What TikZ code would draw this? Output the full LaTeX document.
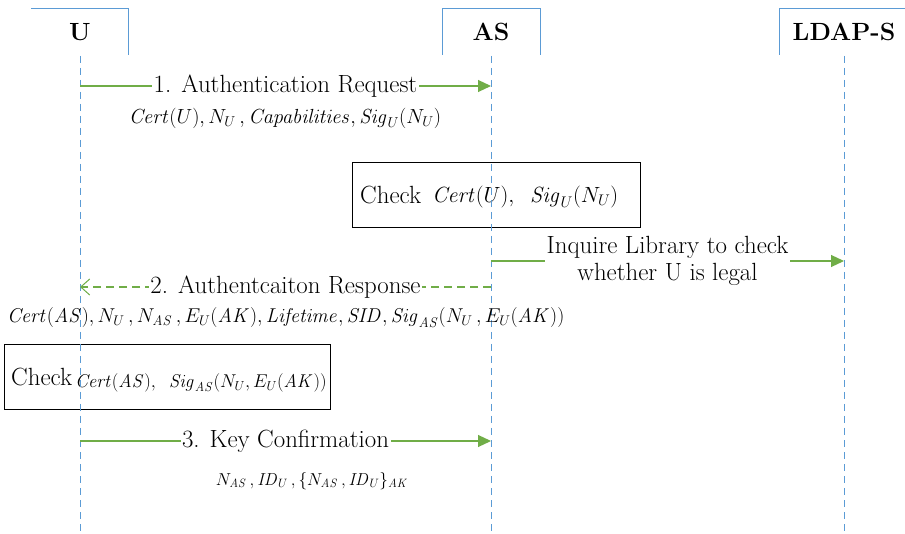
\RequirePackage{fix-cm}
\documentclass[tikz,border=0pt]{standalone}
\usetikzlibrary{arrows.meta}
\definecolor{lifeblue}{RGB}{91,155,213}
\definecolor{msggreen}{RGB}{112,173,71}
\newcommand{\mi}[1]{\mathit{#1}}
\begin{document}
\begin{tikzpicture}[x=1pt,y=-1pt,
  life/.style={draw=lifeblue, line width=0.9pt, dash pattern=on 7pt off 5pt},
  hdr/.style={draw=lifeblue, line width=0.9pt},
  hdrtxt/.style={font=\fontsize{24.88}{27}\selectfont\bfseries, inner sep=0pt},
  msg/.style={draw=msggreen, line width=1.1pt, -{Triangle[length=13pt,width=12pt]}},
  reply/.style={draw=msggreen, line width=1.1pt, dash pattern=on 8pt off 5pt, -{Straight Barb[length=9pt,width=16pt,line width=1pt]}},
  lbl/.style={fill=white, inner sep=1.5pt, font=\fontsize{24.88}{27}\selectfont},
  mathlbl/.style={inner sep=0pt, font=\fontsize{20}{22}\selectfont},
  chk/.style={draw=black, line width=1pt, inner sep=0pt},
  chktxt/.style={inner sep=0pt, font=\fontsize{24.88}{27}\selectfont}
]
\useasboundingbox (0,0) rectangle (905,534);

% headers
\draw[hdr] (31,8) -- (128,8) -- (128,55);
\draw[hdr] (442,55) -- (442,8) -- (540,8) -- (540,55);
\draw[hdr] (779,55) -- (779,8) -- (905,8);
\node[hdrtxt] (Uh) at (80,32) {U};
\node[hdrtxt] (ASh) at (491,32) {AS};
\node[hdrtxt] (Lh) at (844,32) {LDAP-S};

% lifeline coordinates
\coordinate (Utop) at (80,56);
\coordinate (Ubot) at (80,534);
\coordinate (AStop) at (491,56);
\coordinate (ASbot) at (491,534);
\coordinate (Ltop) at (844,56);
\coordinate (Lbot) at (844,534);

\coordinate (U1) at (80,86);
\coordinate (AS1) at (491,86);
\coordinate (AS2) at (491,261);
\coordinate (L2) at (844,261);
\coordinate (AS3) at (491,287);
\coordinate (U3) at (80,287);
\coordinate (U4) at (80,441);
\coordinate (AS4) at (491,441);

% check boxes
\node[chk, minimum width=288pt, minimum height=65pt] (chk1) at (496,195.5) {};
\node[chktxt, anchor=west] (chk1t) at (360,195) {Check};
\node[mathlbl, anchor=west, font=\fontsize{22}{24}\selectfont] (chk1m) at (432,197) {$\mi{Cert}(U),\;\;\mi{Sig}_U(N_U)$};
\node[chk, minimum width=326pt, minimum height=65pt] (chk2) at (167,377.5) {};
\node[chktxt, anchor=west] (chk2t) at (11,377) {Check};
\node[mathlbl, anchor=west, font=\fontsize{18.5}{20}\selectfont] (chk2m) at (75,383) {$\mi{Cert}(\mi{AS}),\;\;\mi{Sig}_{\mi{AS}}(N_U,E_U(\mi{AK}))$};

% lifelines
\draw[life] (Utop) -- (Ubot);
\draw[life] (AStop) -- (ASbot);
\draw[life] (Ltop) -- (Lbot);

% messages
\draw[msg] (U1) -- node[lbl] (m1) {1. Authentication Request} (AS1);
\node[mathlbl, font=\fontsize{20.4}{22}\selectfont] (m1p) at (285,118) {$\mi{Cert}(U),N_U\,,\mi{Capabilities},\mi{Sig}_U(N_U)$};

\draw[msg] (AS2) -- node[lbl, align=center] (m2) {Inquire Library to check\\whether U is legal} (L2);

\draw[reply] (AS3) -- node[lbl] (m3) {2. Authentcaiton Response} (U3);
\node[mathlbl, anchor=west, font=\fontsize{20}{22}\selectfont] (m3p) at (7,318) {$\mi{Cert}(\mi{AS}),N_U\,,N_{\mi{AS}}\,,E_U(\mi{AK}),\mi{Lifetime},\mi{SID},\mi{Sig}_{\mi{AS}}(N_U\,,E_U(\mi{AK}))$};

\draw[msg] (U4) -- node[lbl] (m4) {3. Key Confirmation} (AS4);
\node[mathlbl, font=\fontsize{17.3}{19}\selectfont] (m4p) at (312,481) {$N_{\mi{AS}}\,,\mi{ID}_U\,,\{N_{\mi{AS}}\,,\mi{ID}_U\}_{\mi{AK}}$};
\end{tikzpicture}
\end{document}
